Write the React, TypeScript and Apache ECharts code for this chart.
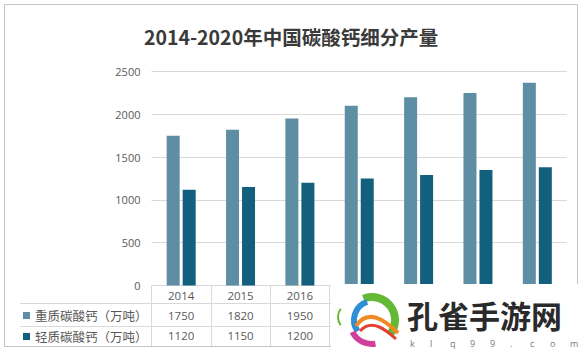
import React, { useEffect, useRef } from "react";
import * as echarts from "echarts";

const years = ["2014", "2015", "2016", "2017", "2018", "2019", "2020"];
const heavy = [1750, 1820, 1950, 2100, 2200, 2250, 2370];
const light = [1120, 1150, 1200, 1250, 1290, 1350, 1380];
const seriesNames = ["重质碳酸钙（万吨）", "轻质碳酸钙（万吨）"];
const titleText = "2014-2020年中国碳酸钙细分产量";
const visibleTableCols = 3;
const wmText = "孔雀手游网";
const wmSub = "klq99.com";

const CJK = '"Noto Sans CJK SC", "Noto Sans", sans-serif';
const LAT = '"Open Sans", "Noto Sans CJK SC", sans-serif';
const gridC = "#d9d9d9";
const txtC = "#595959";

export default function App() {
  const ref = useRef<HTMLDivElement>(null);
  useEffect(() => {
    document.body.style.margin = "0";
    const chart = echarts.init(ref.current!, null, { renderer: "svg" });
    const subChars = wmSub.split("").map((ch, i) => ({
      type: "text",
      z: 102,
      style: {
        text: ch,
        x: 410 + i * 20,
        y: 343,
        fontSize: 9,
        lineHeight: 9,
        fontFamily: LAT,
        fill: "#7a7a7a",
        verticalAlign: "middle",
      },
    }));
    const option: any = {
      animation: false,
      backgroundColor: "#fff",
      title: {
        text: titleText,
        left: "center",
        top: 22,
        textStyle: {
          fontSize: 19.5,
          fontWeight: "bold",
          color: "#3a3a3a",
          fontFamily: CJK,
        },
      },
      legend: {
        data: seriesNames,
        orient: "vertical",
        left: 23,
        top: 308.5,
        padding: 0,
        itemWidth: 7,
        itemHeight: 7,
        itemGap: 7,
        icon: "rect",
        textStyle: { fontSize: 12.5, color: txtC, lineHeight: 14, fontFamily: CJK },
      },
      grid: { left: 151.5, right: 15, top: 71.5, bottom: 65.5, containLabel: false },
      xAxis: {
        type: "category",
        data: years,
        axisLine: { show: true, lineStyle: { color: gridC } },
        axisTick: { show: true, length: 61, interval: 0, lineStyle: { color: gridC } },
        axisLabel: {
          interval: 0,
          margin: 1,
          formatter: (v: string, i: number) =>
            i < visibleTableCols
              ? `{y|${v}}\n{a|${heavy[i]}}\n{b|${light[i]}}`
              : "",
          rich: {
            y: { fontSize: 11.5, lineHeight: 18, color: txtC, fontFamily: LAT },
            a: { fontSize: 11.5, lineHeight: 21, color: txtC, fontFamily: LAT },
            b: { fontSize: 11.5, lineHeight: 20, color: txtC, fontFamily: LAT },
          },
        },
      },
      yAxis: {
        type: "value",
        min: 0,
        max: 2500,
        interval: 500,
        axisLine: { show: false },
        axisTick: { show: false },
        splitLine: { lineStyle: { color: gridC } },
        axisLabel: {
          color: txtC,
          fontSize: 11,
          margin: 11,
          fontFamily: LAT,
          formatter: (v: number) => String(v),
        },
      },
      series: [
        {
          name: seriesNames[0],
          type: "bar",
          data: heavy,
          barWidth: 13,
          barGap: "23%",
          itemStyle: { color: "#5e8ea3" },
        },
        {
          name: seriesNames[1],
          type: "bar",
          data: light,
          barWidth: 13,
          itemStyle: { color: "#135f7e" },
        },
      ],
      graphic: [
        {
          type: "rect",
          z: 1,
          silent: true,
          shape: { x: 4.5, y: 4.5, width: 573, height: 342 },
          style: { fill: "none", stroke: "#c4c4c4", lineWidth: 1 },
        },
        {
          type: "line",
          z: 1,
          shape: { x1: 20, y1: 303.5, x2: 331, y2: 303.5 },
          style: { stroke: gridC, lineWidth: 1 },
        },
        {
          type: "line",
          z: 1,
          shape: { x1: 20, y1: 326.5, x2: 331, y2: 326.5 },
          style: { stroke: gridC, lineWidth: 1 },
        },
        {
          type: "rect",
          z: 100,
          shape: { x: 331, y: 284, width: 251, height: 67 },
          style: { fill: "#fff" },
        },
        {
          type: "arc",
          z: 101,
          shape: { cx: 372, cy: 320, r: 23, startAngle: -Math.PI * 0.62, endAngle: Math.PI * 0.2 },
          style: { stroke: "#63b834", lineWidth: 8, fill: "none" },
        },
        {
          type: "arc",
          z: 101,
          shape: { cx: 373, cy: 320, r: 19, startAngle: Math.PI * 0.8, endAngle: Math.PI * 1.4 },
          style: { stroke: "#2f8fd6", lineWidth: 6, fill: "none" },
        },
        {
          type: "arc",
          z: 101,
          shape: { cx: 372, cy: 322, r: 22, startAngle: Math.PI * 0.45, endAngle: Math.PI * 0.85 },
          style: { stroke: "#d03f9a", lineWidth: 6, fill: "none" },
        },
        {
          type: "bezierCurve",
          z: 101,
          shape: { x1: 356, y1: 326, x2: 398, y2: 333, cpx1: 368, cpy1: 308, cpx2: 385, cpy2: 320 },
          style: { stroke: "#f08a24", lineWidth: 4, fill: "none" },
        },
        {
          type: "bezierCurve",
          z: 101,
          shape: { x1: 360, y1: 331, x2: 396, y2: 339, cpx1: 372, cpy1: 318, cpx2: 386, cpy2: 330 },
          style: { stroke: "#e2412f", lineWidth: 3, fill: "none" },
        },
        {
          type: "arc",
          z: 101,
          shape: { cx: 352, cy: 317, r: 14, startAngle: Math.PI * 0.8, endAngle: Math.PI * 1.2 },
          style: { stroke: "#63b834", lineWidth: 2, fill: "none" },
        },
        {
          type: "text",
          z: 102,
          style: {
            text: wmText,
            x: 407,
            y: 314,
            fontSize: 31,
            lineHeight: 28,
            fontWeight: "bold",
            fontFamily: CJK,
            fill: "#2a2a2a",
            verticalAlign: "middle",
          },
        },
        ...subChars,
      ],
    };
    chart.setOption(option);
    return () => chart.dispose();
  }, []);
  return (
    <div
      ref={ref}
      style={{ position: "absolute", left: 0, top: 0, width: 582, height: 351, background: "#fff" }}
    />
  );
}
